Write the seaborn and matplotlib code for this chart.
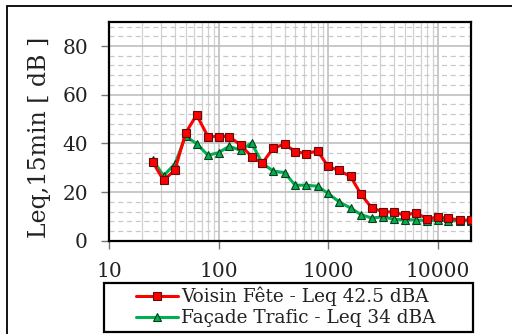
import matplotlib
matplotlib.use("Agg")
import matplotlib.pyplot as plt
import seaborn as sns
import pandas as pd
import numpy as np
from matplotlib.ticker import LogLocator, MultipleLocator, NullFormatter, FixedLocator
from matplotlib.patches import Rectangle

freqs = [25, 31.5, 40, 50, 63, 80, 100, 125, 160, 200, 250, 315, 400, 500, 630,
         800, 1000, 1250, 1600, 2000, 2500, 3150, 4000, 5000, 6300, 8000, 10000,
         12500, 16000, 20000]
voisin_fete = [32.4, 24.8, 29.1, 44.2, 51.7, 42.8, 42.8, 42.8, 39.2, 34.6, 31.8,
               38.0, 39.7, 36.6, 35.8, 36.9, 30.5, 28.9, 26.4, 19.0, 13.5, 11.9,
               11.8, 10.4, 11.5, 9.0, 9.7, 9.2, 8.5, 8.5]
facade_trafic = [33.2, 26.7, 31.6, 42.9, 39.9, 35.1, 36.2, 38.8, 37.1, 40.2, 31.9,
                 28.6, 28.0, 22.8, 22.8, 22.4, 19.4, 16.1, 13.4, 10.7, 9.3, 9.8,
                 8.8, 8.6, 8.6, 8.2, 8.5, 8.2, 8.2, 8.2]
labels = ["Voisin Fête - Leq 42.5 dBA", "Façade Trafic - Leq 34 dBA"]
x_ticks = [10, 100, 1000, 10000]
y_ticks = [0, 20, 40, 60, 80]

sns.set_style("white")
plt.rcParams['font.family'] = ['DejaVu Serif']

W, H = 512, 334
fig = plt.figure(figsize=(W / 100, H / 100), dpi=100)
ax = fig.add_axes([109/W, 1-240.7/H, (470.7-109)/W, (240.7-21.7)/H])

df = pd.DataFrame({
    "f": freqs * 2,
    "L": voisin_fete + facade_trafic,
    "s": [labels[0]] * len(freqs) + [labels[1]] * len(freqs),
})

ax.set_xscale("log")
sns.lineplot(data=df[df.s == labels[0]], x="f", y="L", ax=ax, color="#FF0000",
             lw=2.2, marker="s", markersize=5.2, markerfacecolor="#FF0000",
             markeredgecolor="#5a1010", markeredgewidth=0.8, label=labels[0],
             zorder=4)
sns.lineplot(data=df[df.s == labels[1]], x="f", y="L", ax=ax, color="#00B050",
             lw=2.2, marker="^", markersize=6, markerfacecolor="#00B050",
             markeredgecolor="#0b3d1e", markeredgewidth=0.8, label=labels[1],
             zorder=3)

ax.set_xlim(10, 20000)
ax.set_ylim(0, 90)
ax.xaxis.set_major_locator(FixedLocator(x_ticks))
ax.set_xticklabels([str(t) for t in x_ticks])
ax.xaxis.set_minor_locator(LogLocator(base=10, subs=np.arange(2, 10)))
ax.xaxis.set_minor_formatter(NullFormatter())
ax.yaxis.set_major_locator(FixedLocator(y_ticks))
ax.yaxis.set_minor_locator(MultipleLocator(4))

ax.grid(which="major", axis="both", color="#bfbfbf", lw=1.2, ls="-")
ax.grid(which="minor", axis="x", color="#d0d0d0", lw=0.9, ls="-")
ax.grid(which="minor", axis="y", color="#c8c8c8", lw=0.9, ls=(0, (4, 3)))
ax.set_axisbelow(True)

for s in ax.spines.values():
    s.set_color("black")
    s.set_linewidth(1.6)

ypad, xpad = 9.0, 10.0
ax.tick_params(axis="both", which="major", direction="out", length=5.8, width=1.0,
               color="#777777", labelsize=14.5, labelcolor="#222222")
ax.tick_params(axis="y", which="major", pad=ypad, left=True)
ax.tick_params(axis="x", which="major", pad=xpad, bottom=True)
ax.tick_params(which="minor", length=0)

ax.set_xlabel("")
ax.set_ylabel("Leq,15min [ dB ]", fontsize=17, color="#222222")

leg = ax.legend(loc="center", bbox_to_anchor=(286/W, 1 - 307/H),
                bbox_transform=fig.transFigure, fontsize=13.3, frameon=False,
                handlelength=2.25, handletextpad=0.2, borderpad=0.0,
                labelspacing=0.15, borderaxespad=0)
for t in leg.get_texts():
    t.set_color("#222222")

# fine-tune label positions in pixels
fig.canvas.draw()
r = fig.canvas.get_renderer()
yl = [t.get_window_extent(r) for t in ax.get_yticklabels() if t.get_text()]
right = max(b.x1 for b in yl)
ypad += (right - 88) * 72 / 100
xl = [t.get_window_extent(r) for t in ax.get_xticklabels() if t.get_text()]
top_img = H - max(b.y1 for b in xl)
xpad += (262 - top_img) * 72 / 100
ax.tick_params(axis="y", which="major", pad=ypad)
ax.tick_params(axis="x", which="major", pad=xpad)
ax.yaxis.set_label_coords(51 / W, 1 - 137 / H, transform=fig.transFigure)

# legend box (Excel-style fixed width)
fig.patches.append(Rectangle((104/W, 1 - 332/H), (473-104)/W, (332-282.5)/H,
                             transform=fig.transFigure, fill=False,
                             edgecolor="black", lw=1.6))

# outer frame
fig.patches.append(Rectangle((7/W, -0.1), 1.2, (H-6)/H + 0.1,
                             transform=fig.transFigure, fill=False,
                             edgecolor="black", lw=1.3))

fig.savefig("out.png", dpi=100)
